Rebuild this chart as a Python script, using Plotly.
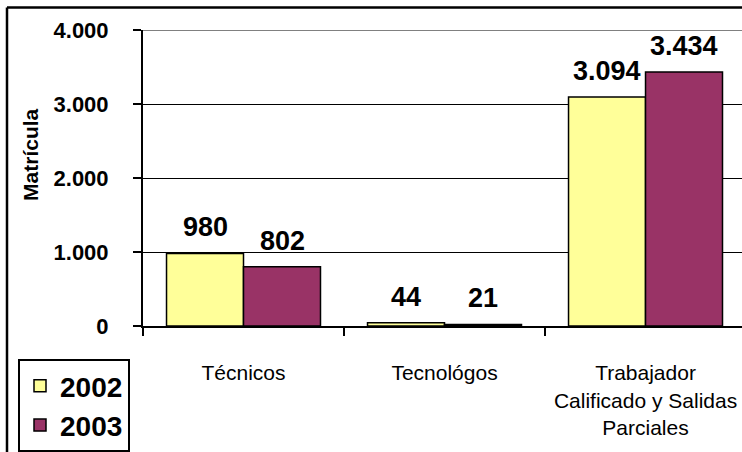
import plotly.graph_objects as go

categories = ["Técnicos", "Tecnológos", "Trabajador<br>Calificado y Salidas<br>Parciales"]
series_names = ["2002", "2003"]
values_2002 = [980, 44, 3094]
values_2003 = [802, 21, 3434]
y_tick_values = [0, 1000, 2000, 3000, 4000]
y_tick_labels = ["0", "1.000", "2.000", "3.000", "4.000"]
y_axis_title = "Matrícula"

FONT = "Arial"
colors = ["#FFFF99", "#993366"]
series_values = [values_2002, values_2003]

W, H = 742, 452
L, R, T, B = 143, 0, 30, 121
pw, ph = W - L - R, H - T - B


def px_x(x):
    return (x - L) / pw


def px_y(y):
    return (H - B - y) / ph


fig = go.Figure()
for name, vals, col in zip(series_names, series_values, colors):
    fig.add_trace(go.Bar(
        name=name, x=categories, y=vals,
        marker=dict(color=col, line=dict(color="black", width=1.5)),
        legendgroup=name,
    ))

annotations = []
for i, vals in enumerate(series_values):
    shift = -38.5 if i == 0 else 38.5
    for c, v in zip(categories, vals):
        annotations.append(dict(
            x=c, y=v, xref="x", yref="y", text=f"{v:,}".replace(",", "."),
            showarrow=False, xshift=shift, yshift=26, yanchor="middle",
            font=dict(family=FONT, size=27, color="black", weight="bold"),
        ))

annotations.append(dict(
    x=px_x(31), y=px_y(157), xref="paper", yref="paper", text=y_axis_title,
    textangle=-90, showarrow=False, xanchor="center", yanchor="middle",
    font=dict(family=FONT, size=21, color="black", weight="bold"),
))

shapes = [
    dict(type="line", xref="paper", yref="paper", x0=px_x(7), x1=px_x(760), y0=px_y(7), y1=px_y(7),
         line=dict(color="black", width=2.5)),
    dict(type="line", xref="paper", yref="paper", x0=px_x(7), x1=px_x(7), y0=px_y(7), y1=px_y(470),
         line=dict(color="black", width=2.5)),
    dict(type="line", xref="paper", yref="y", x0=0, x1=1, y0=4000, y1=4000,
         line=dict(color="#808080", width=2)),
]

fig.update_layout(
    width=W, height=H,
    margin=dict(l=L, r=R, t=T, b=B, pad=0),
    paper_bgcolor="white", plot_bgcolor="white",
    barmode="group", bargap=0.234, bargroupgap=0,
    font=dict(family=FONT, color="black"),
    showlegend=True,
    legend=dict(
        x=px_x(18), y=px_y(365), xanchor="left", yanchor="top",
        xref="paper", yref="paper",
        bordercolor="black", borderwidth=2, bgcolor="white",
        font=dict(family=FONT, size=28, color="black", weight="bold"),
        tracegroupgap=6, traceorder="normal",
    ),
    xaxis=dict(
        range=[-0.5, 2.48], showgrid=False, showline=True, linecolor="black", linewidth=2,
        ticks="outside", tickson="boundaries", ticklen=8, tickcolor="black", tickwidth=2,
        tickfont=dict(family=FONT, size=21, color="black"), ticklabelstandoff=27,
        fixedrange=True,
    ),
    yaxis=dict(
        range=[0, 4000], tickvals=y_tick_values, ticktext=y_tick_labels,
        showgrid=True, gridcolor="black", gridwidth=1,
        showline=True, linecolor="black", linewidth=2,
        ticks="outside", ticklen=8, tickcolor="black", tickwidth=2,
        tickfont=dict(family=FONT, size=22, color="black", weight="bold"),
        ticklabelstandoff=20, zeroline=False, fixedrange=True,
    ),
    annotations=annotations,
    shapes=shapes,
)

fig.write_html(
    "out.html",
    config={"displayModeBar": False},
    post_script="document.body.style.margin='0';document.body.style.overflow='hidden';",
)
